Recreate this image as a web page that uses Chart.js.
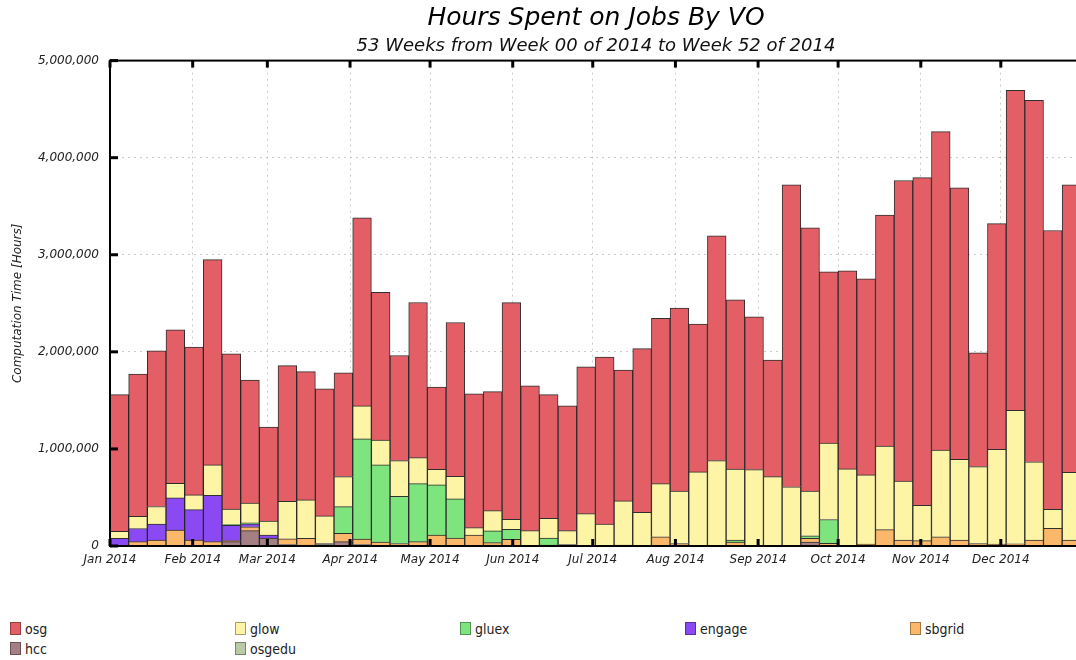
<!DOCTYPE html>
<html>
<head>
<meta charset="utf-8">
<script src="https://cdn.jsdelivr.net/npm/chart.js@4.4.1/dist/chart.umd.min.js"></script>
<style>
  html, body { margin: 0; padding: 0; background: #fff; overflow: hidden; width: 1076px; height: 660px; }
  #wrap { position: absolute; left: 0; top: 0; width: 1192px; height: 570px; }
  #legend {
    position: absolute; left: 10px; top: 620px;
    display: grid; grid-template-columns: repeat(5, 225px); row-gap: 3px;
    font-family: "DejaVu Sans Condensed", "DejaVu Sans", sans-serif; font-size: 14px; color: #222;
  }
  #legend .item { display: flex; align-items: center; height: 17px; }
  #legend .box { width: 11px; height: 13px; margin-right: 4px; box-sizing: border-box; border: 1px solid rgba(0,0,0,0.35); }
</style>
</head>
<body>
<div id="wrap"><canvas id="grafico" width="1192" height="570"></canvas></div>
<div id="legend"></div>
<script>
// Semanas (00 a 52 de 2014)
const weeks = ["00","01","02","03","04","05","06","07","08","09","10","11","12","13","14","15","16","17","18",
  "19","20","21","22","23","24","25","26","27","28","29","30","31","32","33","34","35","36","37","38","39",
  "40","41","42","43","44","45","46","47","48","49","50","51","52"];

// Marcas de mes (días desde el 1 de enero) y sus etiquetas
const monthDays = [0, 31, 59, 90, 120, 151, 181, 212, 243, 273, 304, 334];
const monthLabels = ["Jan 2014", "Feb 2014", "Mar 2014", "Apr 2014", "May 2014", "Jun 2014",
  "Jul 2014", "Aug 2014", "Sep 2014", "Oct 2014", "Nov 2014", "Dec 2014"];

const yTicks = [0, 1000000, 2000000, 3000000, 4000000, 5000000];

// Horas por VO y semana
const osg = [1410000, 1465000, 1603000, 1582000, 1524000, 2115000, 1599000, 1265000, 968000, 1398000,
  1322000, 1309000, 1068000, 1938000, 1523000, 1082000, 1598000, 848000, 1584000, 1378000,
  1226000, 2232000, 1491000, 1275000, 1285000, 1512000, 1719000, 1348000, 1686000, 1704000,
  1883000, 1524000, 2316000, 1743000, 1573000, 1201000, 3110000, 2711000, 1766000, 2041000,
  2021000, 2382000, 3095000, 3374000, 3281000, 2798000, 1172000, 2323000, 3298000, 3723000,
  2872000, 2960000, 2400000];
const glow = [70000, 125000, 180000, 150000, 152000, 312000, 160000, 205000, 145000, 385000,
  395000, 285000, 310000, 340000, 255000, 368000, 268000, 161000, 233000, 76000,
  209000, 103000, 153000, 203000, 143000, 328000, 227000, 454000, 347000, 547000,
  542000, 763000, 880000, 732000, 787000, 714000, 610000, 462000, 786000, 794000,
  712000, 860000, 608000, 365000, 892000, 830000, 793000, 977000, 1375000, 805000,
  196000, 700000, 800000];
const gluex = [0, 0, 0, 0, 0, 0, 8000, 10000, 0, 0,
  0, 0, 275000, 1033000, 795000, 487000, 597000, 516000, 403000, 0,
  121000, 103000, 0, 72000, 0, 0, 0, 0, 0, 0,
  0, 0, 0, 20000, 0, 0, 0, 25000, 245000, 0,
  0, 0, 0, 0, 0, 0, 0, 0, 0, 0,
  0, 0, 0];
const engage = [80000, 135000, 167000, 330000, 312000, 478000, 158000, 30000, 30000, 0,
  0, 0, 0, 0, 0, 0, 0, 0, 0, 0,
  0, 0, 0, 0, 0, 0, 0, 0, 0, 0,
  0, 0, 0, 0, 0, 0, 0, 0, 0, 0,
  0, 0, 0, 0, 0, 0, 0, 0, 0, 0,
  0, 0, 0];
const sbgrid = [0, 45000, 60000, 165000, 62000, 45000, 10000, 40000, 0, 60000,
  70000, 0, 85000, 55000, 40000, 25000, 45000, 113000, 82000, 113000,
  24000, 69000, 0, 10000, 0, 5000, 0, 10000, 0, 95000,
  25000, 0, 0, 35000, 0, 0, 0, 40000, 28000, 0,
  20000, 168000, 62000, 55000, 95000, 62000, 25000, 20000, 22000, 62000,
  182000, 60000, 50000];
const hcc = [0, 0, 0, 0, 0, 0, 45000, 158000, 82000, 15000,
  10000, 10000, 45000, 15000, 0, 0, 0, 0, 0, 0,
  10000, 0, 5000, 0, 15000, 0, 0, 0, 0, 0,
  0, 0, 0, 0, 0, 0, 0, 40000, 0, 0,
  0, 0, 0, 0, 0, 0, 0, 0, 0, 0,
  0, 0, 0];
const osgedu = [0, 0, 0, 0, 0, 0, 0, 0, 0, 0,
  0, 15000, 0, 0, 0, 0, 0, 0, 0, 0,
  0, 0, 0, 0, 0, 0, 0, 0, 0, 0,
  0, 0, 0, 5000, 0, 0, 0, 0, 0, 0,
  0, 0, 0, 0, 0, 0, 0, 0, 0, 0,
  0, 0, 0];

const series = [
  { label: "osg", data: osg, color: "#e35f65" },
  { label: "glow", data: glow, color: "#fdf4a6" },
  { label: "gluex", data: gluex, color: "#7ee47d" },
  { label: "engage", data: engage, color: "#8b49f4" },
  { label: "sbgrid", data: sbgrid, color: "#fbb86a" },
  { label: "hcc", data: hcc, color: "#a47f83" },
  { label: "osgedu", data: osgedu, color: "#b9cba6" }
];

const FONT = "DejaVu Sans";
Chart.defaults.font.family = FONT;
Chart.defaults.color = "#222";

// Leyenda en HTML (5 columnas)
const legendEl = document.getElementById("legend");
series.forEach(s => {
  const item = document.createElement("div");
  item.className = "item";
  item.innerHTML = `<span class="box" style="background:${s.color}"></span><span>${s.label}</span>`;
  legendEl.appendChild(item);
});

// Marcas hacia dentro y marco del área de dibujo
const frameTicks = {
  id: "frameTicks",
  afterDraw(chart) {
    const { ctx, chartArea: a, scales } = chart;
    const line = (x1, y1, x2, y2) => { ctx.beginPath(); ctx.moveTo(x1, y1); ctx.lineTo(x2, y2); ctx.stroke(); };
    ctx.save();
    ctx.strokeStyle = "#000";
    ctx.lineWidth = 2;
    ctx.strokeRect(a.left, a.top, a.right - a.left, a.bottom - a.top);
    ctx.lineWidth = 3;
    scales.months.ticks.forEach(t => {
      const x = scales.months.getPixelForValue(t.value);
      line(x, a.bottom, x, a.bottom - 7);
      line(x, a.top, x, a.top + 7);
    });
    scales.y.ticks.forEach(t => {
      const y = scales.y.getPixelForValue(t.value);
      line(a.left, y, a.left + 8, y);
      line(a.right, y, a.right - 8, y);
    });
    ctx.restore();
  }
};

new Chart(document.getElementById("grafico").getContext("2d"), {
  type: "bar",
  data: {
    labels: weeks,
    datasets: series.slice().reverse().map(s => ({
      label: s.label,
      data: s.data,
      backgroundColor: s.color,
      borderColor: "rgba(25, 25, 25, 0.9)",
      borderWidth: 1,
      barPercentage: 1,
      categoryPercentage: 1
    }))
  },
  options: {
    responsive: false,
    animation: false,
    layout: { padding: 0 },
    plugins: {
      legend: { display: false },
      tooltip: { enabled: false },
      title: {
        display: true,
        text: "Hours Spent on Jobs By VO",
        color: "#000",
        font: { size: 25, style: "italic", weight: "normal", lineHeight: 1.2 },
        padding: { top: 3, bottom: 3 }
      },
      subtitle: {
        display: true,
        text: "53 Weeks from Week 00 of 2014 to Week 52 of 2014",
        color: "#111",
        font: { size: 18, style: "italic", lineHeight: 1.2 },
        padding: { top: 0, bottom: 3 }
      }
    },
    scales: {
      x: {
        display: false,
        stacked: true,
        offset: true,
        grid: { display: false }
      },
      months: {
        type: "linear",
        position: "bottom",
        min: 0,
        max: 371,
        offset: false,
        z: 1,
        afterBuildTicks: scale => { scale.ticks = monthDays.map(v => ({ value: v })); },
        afterFit: scale => { scale.height = 24; },
        ticks: {
          autoSkip: false,
          maxRotation: 0,
          padding: 7,
          color: "#222",
          font: { size: 12, style: "italic" },
          callback: v => monthLabels[monthDays.indexOf(v)]
        },
        grid: { color: "rgba(185, 185, 185, 0.75)", drawTicks: false, offset: false },
        border: { display: false, dash: [2, 4] }
      },
      y: {
        stacked: true,
        min: 0,
        max: 5000000,
        z: 1,
        afterBuildTicks: scale => { scale.ticks = yTicks.map(v => ({ value: v })); },
        afterFit: scale => { scale.width = 110; },
        ticks: {
          padding: 11,
          color: "#222",
          font: { size: 12, style: "italic" },
          callback: v => v.toLocaleString("en-US")
        },
        title: {
          display: true,
          text: "Computation Time [Hours]",
          color: "#222",
          font: { size: 12, style: "italic" },
          padding: { top: 11, bottom: 0 }
        },
        grid: { color: "rgba(185, 185, 185, 0.75)", drawTicks: false },
        border: { display: false, dash: [2, 4] }
      },
      y2: {
        position: "right",
        min: 0,
        max: 5000000,
        afterFit: scale => { scale.width = 92.5; },
        ticks: { display: false },
        grid: { display: false },
        border: { display: false }
      }
    }
  },
  plugins: [frameTicks]
});
</script>
</body>
</html>
